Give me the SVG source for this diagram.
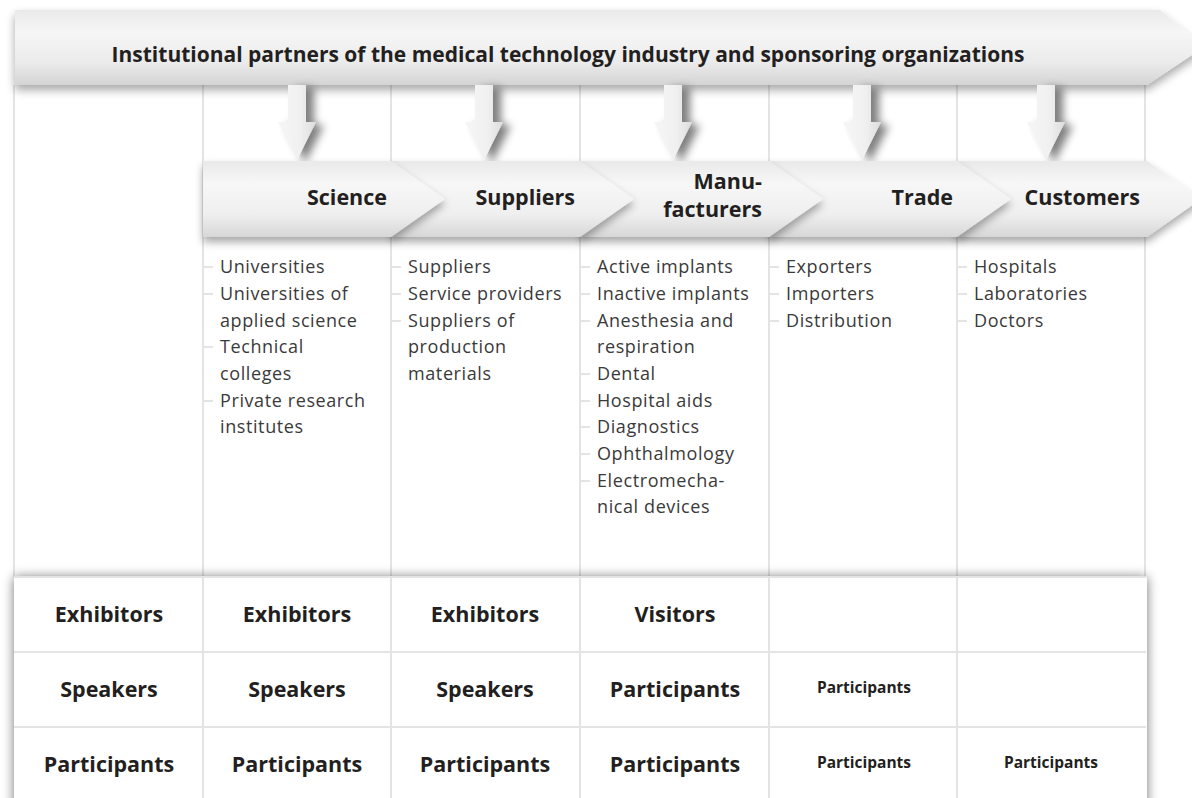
<svg xmlns="http://www.w3.org/2000/svg" width="1192" height="798" viewBox="0 0 1192 798">
<defs>
<linearGradient id="gBanner" x1="0" y1="0" x2="0" y2="1">
<stop offset="0" stop-color="#eaeaea"/>
<stop offset="0.3" stop-color="#f6f6f6"/>
<stop offset="0.7" stop-color="#ebebeb"/>
<stop offset="1" stop-color="#d4d4d5"/>
</linearGradient>
<linearGradient id="gChev" x1="0" y1="0" x2="0" y2="1">
<stop offset="0" stop-color="#e9e9e9"/>
<stop offset="0.3" stop-color="#f7f7f7"/>
<stop offset="0.7" stop-color="#efefef"/>
<stop offset="1" stop-color="#d7d7d8"/>
</linearGradient>
<linearGradient id="gDown" x1="0" y1="0" x2="1" y2="0">
<stop offset="0" stop-color="#f6f6f6"/>
<stop offset="0.6" stop-color="#f0f0f0"/>
<stop offset="1" stop-color="#dcdcdc"/>
</linearGradient>
<filter id="shBanner" x="-5%" y="-40%" width="110%" height="180%">
<feGaussianBlur in="SourceAlpha" stdDeviation="5"/>
<feOffset dx="0" dy="5" result="b"/>
<feComponentTransfer><feFuncA type="linear" slope="0.35"/></feComponentTransfer>
<feMerge><feMergeNode/><feMergeNode in="SourceGraphic"/></feMerge>
</filter>
<filter id="shChev" x="-20%" y="-40%" width="140%" height="180%">
<feGaussianBlur in="SourceAlpha" stdDeviation="4"/>
<feOffset dx="0" dy="5" result="b"/>
<feComponentTransfer><feFuncA type="linear" slope="0.35"/></feComponentTransfer>
<feMerge><feMergeNode/><feMergeNode in="SourceGraphic"/></feMerge>
</filter>
<filter id="shDown" x="-60%" y="-30%" width="220%" height="160%">
<feGaussianBlur in="SourceAlpha" stdDeviation="4.5"/>
<feOffset dx="8" dy="3" result="b"/>
<feComponentTransfer><feFuncA type="linear" slope="0.5"/></feComponentTransfer>
<feMerge><feMergeNode/><feMergeNode in="SourceGraphic"/></feMerge>
</filter>
<filter id="shTable" x="-5%" y="-10%" width="110%" height="120%">
<feGaussianBlur in="SourceAlpha" stdDeviation="6"/>
<feOffset dx="0" dy="0" result="b"/>
<feComponentTransfer><feFuncA type="linear" slope="0.55"/></feComponentTransfer>
<feMerge><feMergeNode/><feMergeNode in="SourceGraphic"/></feMerge>
</filter>
<path id="downArrow" d="M-9,0 L9,0 L9,37 L19,37 L0,75 L-19,37 L-9,37 Z"/>
</defs>
<style>
.grid{stroke:#e4e4e5;stroke-width:2;fill:none}
.tick{stroke:#c9c9c9;stroke-width:1}
.t{font-family:"Open Sans","Liberation Sans",sans-serif;fill:#231f20}
.b{font-weight:700}
.item{font-family:"Open Sans","Liberation Sans",sans-serif;font-size:18px;letter-spacing:0.6px;fill:#3a3a3a}
.big{font-size:21.5px;font-weight:700;text-anchor:middle}
.small{font-size:15.5px;font-weight:700;text-anchor:middle}
.chevlbl{font-size:21.5px;font-weight:700;text-anchor:end}
</style>
<rect width="1192" height="798" fill="#ffffff"/>

<g id="grid-upper">
<line class="grid" x1="14" y1="85" x2="14" y2="577"/>
<line class="grid" x1="203" y1="85" x2="203" y2="577"/>
<line class="grid" x1="391" y1="85" x2="391" y2="577"/>
<line class="grid" x1="580" y1="85" x2="580" y2="577"/>
<line class="grid" x1="769" y1="85" x2="769" y2="577"/>
<line class="grid" x1="957" y1="85" x2="957" y2="577"/>
<line class="grid" x1="1145" y1="85" x2="1145" y2="577"/>
</g>

<g id="table">
<rect x="14" y="577" width="1133" height="240" fill="#ffffff" filter="url(#shTable)"/>
<line class="grid" x1="14" y1="577" x2="1146" y2="577"/>
<line class="grid" x1="14" y1="652" x2="1146" y2="652"/>
<line class="grid" x1="14" y1="727" x2="1146" y2="727"/>
<line class="grid" x1="203" y1="577" x2="203" y2="798"/>
<line class="grid" x1="391" y1="577" x2="391" y2="798"/>
<line class="grid" x1="580" y1="577" x2="580" y2="798"/>
<line class="grid" x1="769" y1="577" x2="769" y2="798"/>
<line class="grid" x1="957" y1="577" x2="957" y2="798"/>
</g>

<g id="banner">
<polygon points="15,10 1160,10 1204,47 1147,85 15,85" fill="url(#gBanner)" filter="url(#shBanner)"/>
<text class="t b" x="568" y="62" font-size="21" text-anchor="middle">Institutional partners of the medical technology industry and sponsoring organizations</text>
</g>

<g id="connectors">
<use href="#downArrow" x="297" y="85" fill="url(#gDown)" filter="url(#shDown)"/>
<use href="#downArrow" x="484" y="85" fill="url(#gDown)" filter="url(#shDown)"/>
<use href="#downArrow" x="673" y="85" fill="url(#gDown)" filter="url(#shDown)"/>
<use href="#downArrow" x="862" y="85" fill="url(#gDown)" filter="url(#shDown)"/>
<use href="#downArrow" x="1046" y="85" fill="url(#gDown)" filter="url(#shDown)"/>
</g>

<g id="customers">
<polygon points="957,161 1147,161 1201,199 1147,237 957,237" fill="url(#gChev)" filter="url(#shChev)"/>
<text class="t chevlbl" x="1140" y="205">Customers</text>
</g>
<g id="trade">
<polygon points="769,161 957,161 1011,199 957,237 769,237" fill="url(#gChev)" filter="url(#shChev)"/>
<text class="t chevlbl" x="953" y="205">Trade</text>
</g>
<g id="manufacturers">
<polygon points="580,161 769,161 823,199 769,237 580,237" fill="url(#gChev)" filter="url(#shChev)"/>
<text class="t chevlbl" font-size="20.5"><tspan x="762" y="189">Manu-</tspan><tspan x="762" y="217">facturers</tspan></text>
</g>
<g id="suppliers">
<polygon points="391,161 580,161 634,199 580,237 391,237" fill="url(#gChev)" filter="url(#shChev)"/>
<text class="t chevlbl" x="575" y="205">Suppliers</text>
</g>
<g id="science">
<polygon points="203,161 391,161 445,199 391,237 203,237" fill="url(#gChev)" filter="url(#shChev)"/>
<text class="t chevlbl" x="387" y="205">Science</text>
</g>

<g id="science-items">
<line class="tick" x1="204" y1="267" x2="213" y2="267"/>
<line class="tick" x1="204" y1="294" x2="213" y2="294"/>
<line class="tick" x1="204" y1="347" x2="213" y2="347"/>
<line class="tick" x1="204" y1="401" x2="213" y2="401"/>
<text class="item" x="220" y="273">Universities</text>
<text class="item" x="220" y="300">Universities of</text>
<text class="item" x="220" y="327">applied science</text>
<text class="item" x="220" y="353">Technical</text>
<text class="item" x="220" y="380">colleges</text>
<text class="item" x="220" y="407">Private research</text>
<text class="item" x="220" y="433">institutes</text>
</g>
<g id="suppliers-items">
<line class="tick" x1="392" y1="267" x2="401" y2="267"/>
<line class="tick" x1="392" y1="294" x2="401" y2="294"/>
<line class="tick" x1="392" y1="321" x2="401" y2="321"/>
<text class="item" x="408" y="273">Suppliers</text>
<text class="item" x="408" y="300">Service providers</text>
<text class="item" x="408" y="327">Suppliers of</text>
<text class="item" x="408" y="353">production</text>
<text class="item" x="408" y="380">materials</text>
</g>
<g id="manufacturers-items">
<line class="tick" x1="581" y1="267" x2="590" y2="267"/>
<line class="tick" x1="581" y1="294" x2="590" y2="294"/>
<line class="tick" x1="581" y1="321" x2="590" y2="321"/>
<line class="tick" x1="581" y1="374" x2="590" y2="374"/>
<line class="tick" x1="581" y1="401" x2="590" y2="401"/>
<line class="tick" x1="581" y1="427" x2="590" y2="427"/>
<line class="tick" x1="581" y1="454" x2="590" y2="454"/>
<line class="tick" x1="581" y1="481" x2="590" y2="481"/>
<text class="item" x="597" y="273">Active implants</text>
<text class="item" x="597" y="300">Inactive implants</text>
<text class="item" x="597" y="327">Anesthesia and</text>
<text class="item" x="597" y="353">respiration</text>
<text class="item" x="597" y="380">Dental</text>
<text class="item" x="597" y="407">Hospital aids</text>
<text class="item" x="597" y="433">Diagnostics</text>
<text class="item" x="597" y="460">Ophthalmology</text>
<text class="item" x="597" y="487">Electromecha-</text>
<text class="item" x="597" y="513">nical devices</text>
</g>
<g id="trade-items">
<line class="tick" x1="770" y1="267" x2="779" y2="267"/>
<line class="tick" x1="770" y1="294" x2="779" y2="294"/>
<line class="tick" x1="770" y1="321" x2="779" y2="321"/>
<text class="item" x="786" y="273">Exporters</text>
<text class="item" x="786" y="300">Importers</text>
<text class="item" x="786" y="327">Distribution</text>
</g>
<g id="customers-items">
<line class="tick" x1="958" y1="267" x2="967" y2="267"/>
<line class="tick" x1="958" y1="294" x2="967" y2="294"/>
<line class="tick" x1="958" y1="321" x2="967" y2="321"/>
<text class="item" x="974" y="273">Hospitals</text>
<text class="item" x="974" y="300">Laboratories</text>
<text class="item" x="974" y="327">Doctors</text>
</g>

<g id="row-1">
<text class="t big" x="109" y="622">Exhibitors</text>
<text class="t big" x="297" y="622">Exhibitors</text>
<text class="t big" x="485" y="622">Exhibitors</text>
<text class="t big" x="675" y="622">Visitors</text>
</g>
<g id="row-2">
<text class="t big" x="109" y="697">Speakers</text>
<text class="t big" x="297" y="697">Speakers</text>
<text class="t big" x="485" y="697">Speakers</text>
<text class="t big" x="675" y="697">Participants</text>
<text class="t small" x="864" y="693">Participants</text>
</g>
<g id="row-3">
<text class="t big" x="109" y="772">Participants</text>
<text class="t big" x="297" y="772">Participants</text>
<text class="t big" x="485" y="772">Participants</text>
<text class="t big" x="675" y="772">Participants</text>
<text class="t small" x="864" y="768">Participants</text>
<text class="t small" x="1051" y="768">Participants</text>
</g>
</svg>
